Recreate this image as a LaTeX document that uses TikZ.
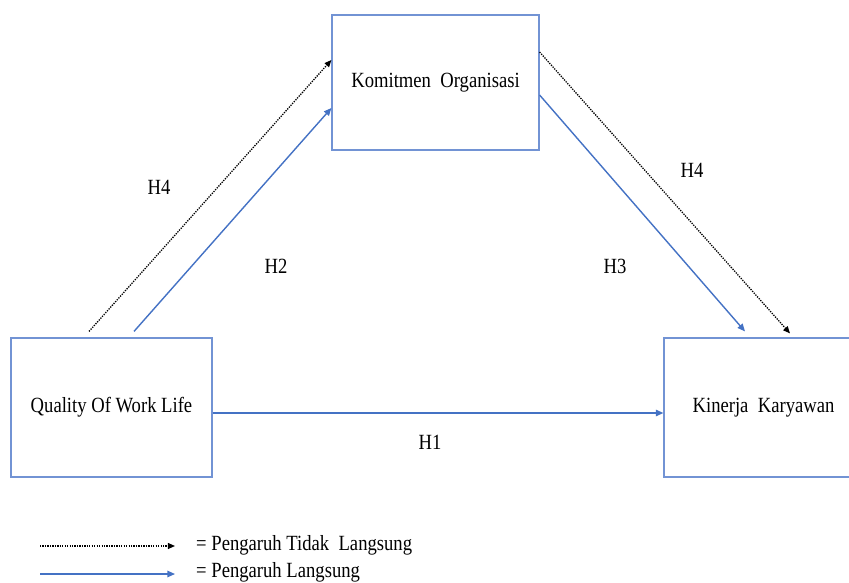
\documentclass[tikz,border=0pt]{standalone}
\usepackage{fontspec}
\setmainfont{Liberation Serif}[FakeStretch=0.86]
\usepackage{tikz}
\usetikzlibrary{arrows.meta}
\definecolor{boxblue}{RGB}{114,147,212}
\definecolor{arrowblue}{RGB}{68,114,196}

\begin{document}
\begin{tikzpicture}[font=\fontsize{18.5}{21}\selectfont,
	varbox/.style={draw=boxblue, line width=1pt, inner sep=0pt},
	direct/.style={draw=arrowblue, line width=1.2pt, -{Triangle[length=6.5pt,width=5.5pt]}},
	indirect/.style={draw=black, line width=1.1pt, densely dotted, -{Triangle[length=6pt,width=5pt]}}]
	%\draw[help lines] (0,0) grid (26,18);
	\useasboundingbox (0,0) rectangle (25.47,17.46);
	\node[varbox, minimum width=6.21cm, minimum height=4.05cm] (kom) at (13.065,14.985) {Komitmen\ \ Organisasi};
	\node[varbox, minimum width=6.03cm, minimum height=4.17cm] (qwl) at (3.345,5.235) {Quality Of Work Life};
	\node[varbox, minimum width=5.97cm, minimum height=4.17cm] (kin) at (22.905,5.235) {Kinerja\ \ Karyawan};
	\draw[indirect] ([shift={(-0.675,0.18)}]qwl.north) -- ([yshift=0.675cm]kom.west);
	\draw[direct] ([shift={(0.675,0.18)}]qwl.north) -- ([yshift=-0.765cm]kom.west);
	\draw[direct] ([yshift=-0.375cm]kom.east) -- ([shift={(-0.555,0.18)}]kin.north);
	\draw[indirect] ([yshift=0.915cm]kom.east) -- ([shift={(0.795,0.12)}]kin.north);
	\draw[direct] ([yshift=-0.165cm]qwl.east) -- ([yshift=-0.165cm]kin.west);
	\node (h4a) at (4.77,11.85) {H4};
	\node (h2) at (8.28,9.48) {H2};
	\node (h3) at (18.45,9.48) {H3};
	\node (h4b) at (20.76,12.36) {H4};
	\node (h1) at (12.9,4.19) {H1};
	% keterangan
	\coordinate (ind1) at (1.2,1.08);
	\coordinate (ind2) at (5.25,1.08);
	\coordinate (dir1) at (1.2,0.24);
	\coordinate (dir2) at (5.25,0.24);
	\draw[indirect] (ind1) -- (ind2);
	\draw[direct] (dir1) -- (dir2);
	\node[anchor=west, inner sep=0pt] (legind) at (5.88,1.1) {= Pengaruh Tidak\ \ Langsung};
	\node[anchor=west, inner sep=0pt] (legdir) at (5.88,0.28) {= Pengaruh Langsung};
\end{tikzpicture}
\end{document}
